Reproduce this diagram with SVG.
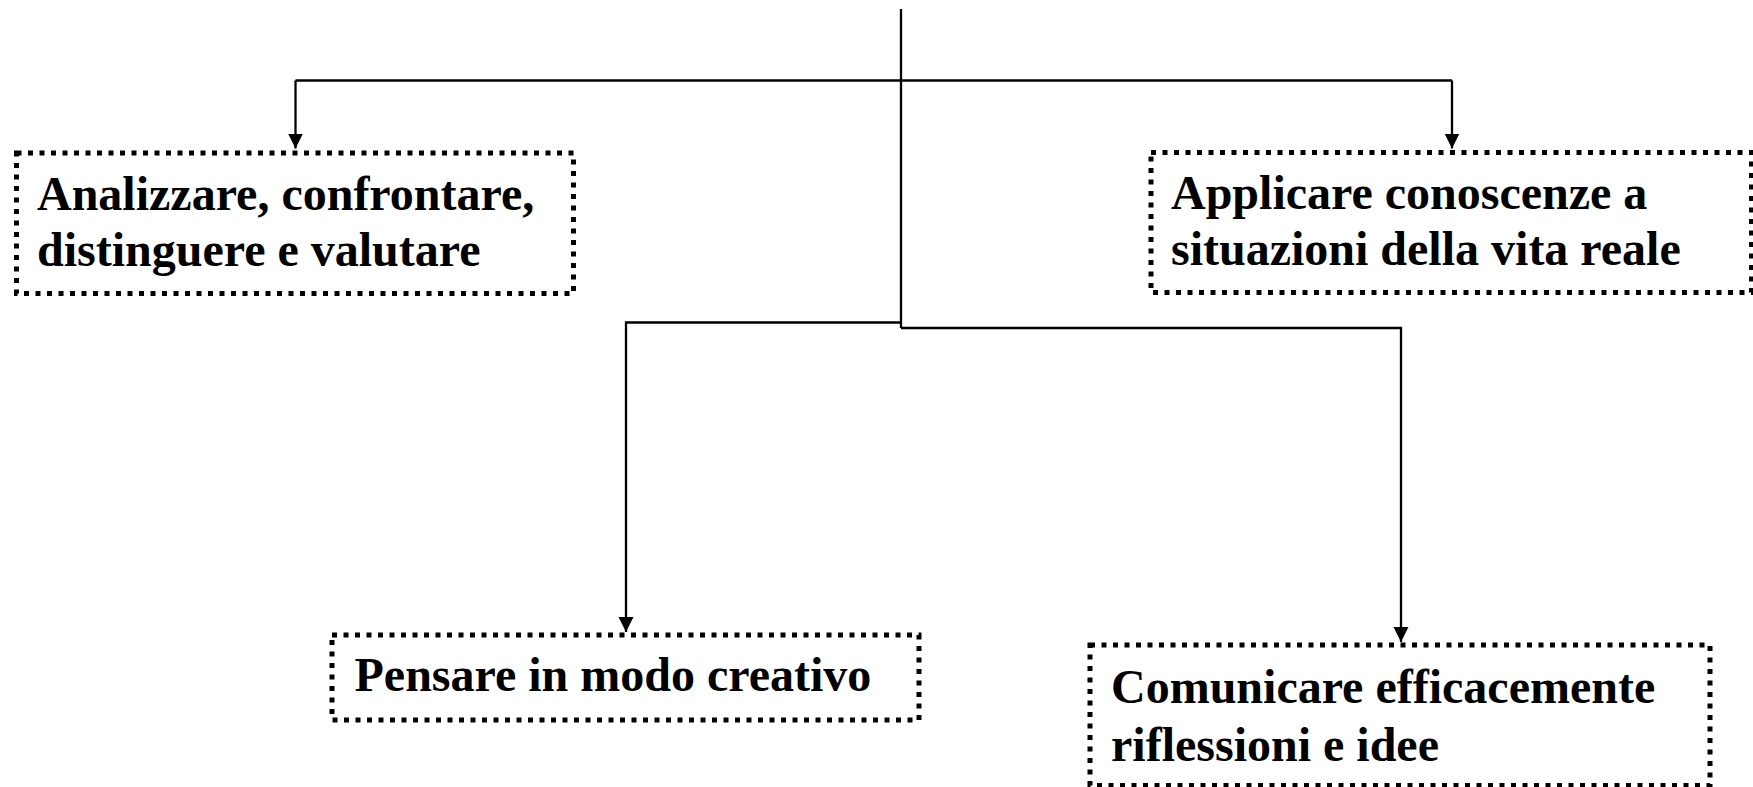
<svg xmlns="http://www.w3.org/2000/svg" width="1753" height="787" viewBox="0 0 1753 787">
<style>
.box{fill:#ffffff;stroke:#000000;stroke-width:5;stroke-dasharray:5 6.5}
.lbl{font-family:"Liberation Serif","Times New Roman",serif;font-weight:bold;font-size:48px;fill:#000000}
.con{fill:none;stroke:#000000;stroke-width:2.3}
</style>
<defs>
<marker id="arr" markerUnits="userSpaceOnUse" markerWidth="16" markerHeight="16" refX="15" refY="7.5" orient="auto">
<path d="M0,0 L15,7.5 L0,15 z" fill="#000000"/>
</marker>
</defs>
<rect width="1753" height="787" fill="#ffffff"/>
<g id="connectors">
<path class="con" d="M901,9 L901,328"/>
<path class="con" d="M295.5,80.5 L1452,80.5"/>
<path class="con" d="M295.5,80.5 L295.5,148.5" marker-end="url(#arr)"/>
<path class="con" d="M1452,80.5 L1452,148.5" marker-end="url(#arr)"/>
<path class="con" d="M901,322.5 L626,322.5 L626,632" marker-end="url(#arr)"/>
<path class="con" d="M901,328 L1401,328 L1401,642" marker-end="url(#arr)"/>
</g>
<g id="node1">
<rect class="box" x="16.5" y="153" width="557" height="140.5"/>
<text class="lbl" x="37" y="209.5">Analizzare, confrontare,</text>
<text class="lbl" x="37" y="266">distinguere e valutare</text>
</g>
<g id="node2">
<rect class="box" x="1151" y="152.5" width="600.5" height="140"/>
<text class="lbl" x="1171" y="208.5">Applicare conoscenze a</text>
<text class="lbl" x="1171" y="265">situazioni della vita reale</text>
</g>
<g id="node3">
<rect class="box" x="332" y="635" width="587" height="85"/>
<text class="lbl" x="354.5" y="691">Pensare in modo creativo</text>
</g>
<g id="node4">
<rect class="box" x="1090" y="645" width="620" height="140.5"/>
<text class="lbl" x="1111" y="702.5">Comunicare efficacemente</text>
<text class="lbl" x="1111" y="760.5">riflessioni e idee</text>
</g>
</svg>
